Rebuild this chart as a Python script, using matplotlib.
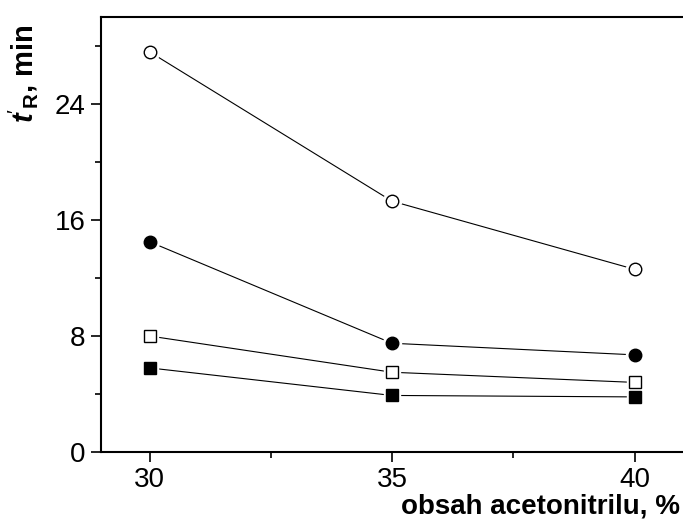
import matplotlib
matplotlib.use("Agg")
import matplotlib.pyplot as plt
from matplotlib.ticker import MultipleLocator

# obsah acetonitrilu (%)
acetonitril = [30, 35, 40]

# retencni faktory t'R (min)
open_circle = [27.6, 17.3, 12.6]
filled_circle = [14.5, 7.5, 6.7]
open_square = [8.0, 5.5, 4.8]
filled_square = [5.8, 3.9, 3.8]

plt.rcParams['font.family'] = ['Liberation Sans', 'DejaVu Sans']
plt.rcParams['mathtext.fontset'] = 'custom'
plt.rcParams['mathtext.rm'] = 'Liberation Sans'
plt.rcParams['mathtext.bf'] = 'Liberation Sans:bold'
plt.rcParams['mathtext.bfit'] = 'Liberation Sans:bold:italic'
plt.rcParams['mathtext.it'] = 'Liberation Sans:italic'

fig = plt.figure(figsize=(6.83, 5.19), dpi=100)
ax = fig.add_axes([101 / 683, 1 - 452 / 519, 582 / 683, 435 / 519])

series = [
    (open_circle, 'o', 'white', 9),
    (filled_circle, 'o', 'black', 9),
    (open_square, 's', 'white', 8),
    (filled_square, 's', 'black', 8),
]
for vals, m, fc, ms in series:
    # cara s mezerou u znacek (styl Origin)
    ax.plot(acetonitril, vals, '-', color='black', lw=0.8, zorder=1)
    ax.plot(acetonitril, vals, ls='none', marker=m, ms=ms + 4, mfc='white',
            mec='white', zorder=2)
    ax.plot(acetonitril, vals, ls='none', marker=m, ms=ms, mfc=fc,
            mec='black', mew=1.0, zorder=3)

ax.set_xlim(29, 41)
ax.set_ylim(0, 30)
ax.xaxis.set_major_locator(MultipleLocator(5))
ax.xaxis.set_minor_locator(MultipleLocator(2.5))
ax.yaxis.set_major_locator(MultipleLocator(8))
ax.yaxis.set_minor_locator(MultipleLocator(4))

for s in ax.spines.values():
    s.set_linewidth(1.5)
ax.spines['right'].set_visible(False)

ax.tick_params(which='both', direction='out', width=1.2, labelsize=20,
               top=False, right=False)
ax.tick_params(which='major', length=7)
ax.tick_params(which='minor', length=4)
ax.tick_params(axis='x', pad=4)
ax.tick_params(axis='y', pad=4)

ax.set_ylabel(r"$\mathbfit{t}'_{\mathbf{R}}$, min", fontsize=21,
              fontweight='bold')
ax.yaxis.set_label_coords(-0.105, 0.87)
fig.text(680 / 683, 1 - 514 / 519, 'obsah acetonitrilu, %', fontsize=20,
         fontweight='bold', ha='right', va='baseline')

fig.savefig('out.png', dpi=100)
